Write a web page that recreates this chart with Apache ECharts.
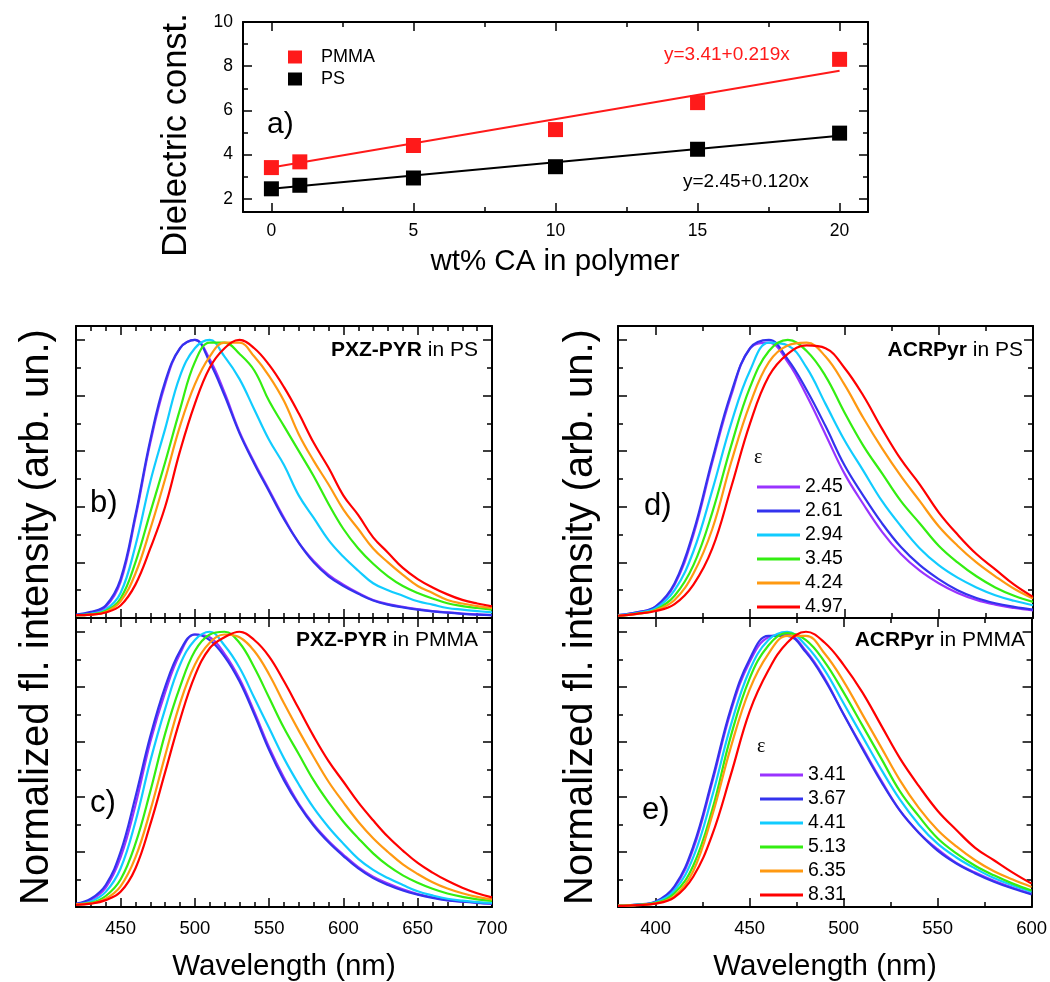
<!DOCTYPE html>
<html><head><meta charset="utf-8">
<script src="https://cdn.jsdelivr.net/npm/echarts@6/dist/echarts.min.js"></script>
<style>html,body{margin:0;padding:0;background:#fff}#c{width:1050px;height:982px}</style>
</head><body><div id="c"></div>
<script>
// ---------- panel a data ----------
const wtPct   = [0, 1, 5, 10, 15, 20];
const epsPMMA = [3.41, 3.67, 4.41, 5.13, 6.35, 8.31];
const epsPS   = [2.45, 2.61, 2.94, 3.45, 4.24, 4.97];
const fitX    = [0, 20];
const fitPMMA = [3.41, 7.79];
const fitPS   = [2.45, 4.85];
const aXTicks = [0, 5, 10, 15, 20];
const aXMinor = [2.5, 7.5, 12.5, 17.5];
const aYTicks = [2, 4, 6, 8, 10];
const aYMinor = [3, 5, 7, 9];

// ---------- spectra ----------
const wlPXZ = [420,430,440,450,460,470,480,490,500,510,520,530,540,550,560,570,580,590,600,610,620,630,640,650,660,670,680,690,700];
const wlACR = [380,390,400,410,420,430,440,450,460,470,480,490,500,510,520,530,540,550,560,570,580,590,600];
const pxzTicks = [450, 500, 550, 600, 650, 700];
const pxzMinor = [430,440,460,470,480,490,510,520,530,540,560,570,580,590,610,620,630,640,660,670,680,690];
const acrTicks = [400, 450, 500, 550, 600];
const acrMinor = [425, 475, 525, 575];
const intTicks = [0.2, 0.4, 0.6, 0.8, 1.0];
const intMinor = [0.1, 0.3, 0.5, 0.7, 0.9];

const epsPSLabels   = ['2.45', '2.61', '2.94', '3.45', '4.24', '4.97'];
const epsPMMALabels = ['3.41', '3.67', '4.41', '5.13', '6.35', '8.31'];
const lineColors = ['#9933ff', '#3333ee', '#11ccff', '#33ee11', '#ff9911', '#ff0000'];

// b) PXZ-PYR in PS
const b245 = [0.01,0.02,0.04,0.13,0.36,0.63,0.84,0.97,1.0,0.93,0.81,0.67,0.56,0.46,0.36,0.27,0.205,0.155,0.12,0.09,0.065,0.05,0.04,0.032,0.025,0.02,0.016,0.013,0.01];
const b261 = [0.012,0.022,0.045,0.14,0.37,0.64,0.85,0.97,1.0,0.92,0.8,0.665,0.555,0.455,0.355,0.27,0.2,0.15,0.115,0.087,0.063,0.048,0.038,0.03,0.024,0.019,0.015,0.012,0.01];
const b294 = [0.01,0.015,0.03,0.09,0.26,0.49,0.68,0.87,0.97,1.0,0.94,0.86,0.75,0.64,0.55,0.44,0.36,0.28,0.22,0.17,0.125,0.1,0.08,0.06,0.048,0.036,0.03,0.025,0.02];
const b345 = [0.01,0.013,0.025,0.07,0.2,0.38,0.56,0.75,0.92,0.99,0.99,0.95,0.89,0.78,0.69,0.6,0.51,0.41,0.32,0.25,0.195,0.15,0.115,0.09,0.07,0.053,0.043,0.036,0.03];
const b424 = [0.01,0.012,0.022,0.06,0.16,0.32,0.5,0.69,0.84,0.94,0.99,0.99,0.94,0.87,0.78,0.66,0.565,0.48,0.39,0.32,0.25,0.2,0.155,0.115,0.09,0.065,0.052,0.043,0.036];
const b497 = [0.01,0.012,0.02,0.045,0.12,0.25,0.4,0.6,0.77,0.9,0.97,1.0,0.97,0.91,0.83,0.735,0.63,0.54,0.44,0.37,0.29,0.235,0.18,0.14,0.11,0.085,0.065,0.052,0.042];
// c) PXZ-PYR in PMMA
const c341 = [0.01,0.025,0.07,0.18,0.37,0.6,0.78,0.92,0.99,0.98,0.92,0.83,0.71,0.58,0.47,0.375,0.3,0.24,0.19,0.145,0.11,0.085,0.064,0.047,0.035,0.025,0.02,0.016,0.013];
const c367 = [0.012,0.03,0.08,0.2,0.4,0.62,0.8,0.93,0.99,0.97,0.91,0.82,0.7,0.57,0.46,0.37,0.295,0.235,0.185,0.14,0.105,0.08,0.06,0.045,0.033,0.024,0.019,0.015,0.012];
const c441 = [0.01,0.02,0.055,0.14,0.31,0.53,0.72,0.88,0.97,1.0,0.95,0.87,0.76,0.65,0.54,0.445,0.36,0.29,0.23,0.175,0.135,0.105,0.08,0.057,0.042,0.03,0.023,0.018,0.015];
const c513 = [0.01,0.015,0.04,0.1,0.23,0.42,0.63,0.8,0.93,0.99,1.0,0.96,0.87,0.76,0.65,0.555,0.46,0.38,0.31,0.25,0.195,0.15,0.115,0.088,0.066,0.049,0.037,0.028,0.022];
const c635 = [0.01,0.013,0.03,0.075,0.18,0.35,0.55,0.74,0.88,0.96,0.99,0.98,0.93,0.845,0.74,0.64,0.545,0.455,0.38,0.31,0.25,0.2,0.155,0.12,0.09,0.067,0.05,0.037,0.028];
const c831 = [0.008,0.012,0.025,0.055,0.14,0.3,0.49,0.68,0.84,0.94,0.98,1.0,0.97,0.91,0.82,0.72,0.62,0.53,0.455,0.38,0.315,0.255,0.205,0.16,0.125,0.095,0.07,0.05,0.035];
// d) ACRPyr in PS
const d245 = [0.01,0.02,0.04,0.12,0.3,0.56,0.8,0.97,0.99,0.92,0.8,0.66,0.52,0.41,0.31,0.23,0.17,0.125,0.09,0.065,0.048,0.036,0.027];
const d261 = [0.01,0.02,0.042,0.125,0.31,0.57,0.81,0.97,1.0,0.93,0.82,0.69,0.55,0.44,0.34,0.255,0.19,0.14,0.1,0.072,0.053,0.04,0.03];
const d294 = [0.01,0.018,0.035,0.1,0.24,0.46,0.7,0.89,0.99,0.98,0.9,0.77,0.64,0.53,0.42,0.33,0.25,0.19,0.145,0.11,0.082,0.062,0.046];
const d345 = [0.008,0.016,0.03,0.08,0.19,0.38,0.62,0.83,0.96,1.0,0.96,0.87,0.74,0.62,0.52,0.42,0.34,0.26,0.2,0.15,0.11,0.08,0.058];
const d424 = [0.008,0.015,0.028,0.065,0.16,0.32,0.56,0.77,0.92,0.98,0.99,0.94,0.84,0.72,0.61,0.51,0.42,0.33,0.26,0.2,0.15,0.105,0.07];
const d497 = [0.008,0.015,0.025,0.05,0.12,0.25,0.47,0.7,0.87,0.95,0.98,0.97,0.9,0.8,0.68,0.57,0.48,0.38,0.3,0.23,0.175,0.12,0.076];
// e) ACRPyr in PMMA
const e341 = [0.005,0.008,0.018,0.07,0.21,0.45,0.71,0.89,0.98,0.99,0.93,0.83,0.7,0.58,0.46,0.35,0.27,0.21,0.16,0.125,0.095,0.07,0.048];
const e367 = [0.005,0.009,0.02,0.075,0.22,0.46,0.72,0.9,0.985,0.985,0.925,0.825,0.7,0.575,0.455,0.35,0.27,0.205,0.158,0.122,0.092,0.067,0.046];
const e441 = [0.005,0.008,0.017,0.06,0.18,0.4,0.66,0.86,0.97,1.0,0.95,0.86,0.74,0.62,0.5,0.39,0.3,0.23,0.18,0.14,0.105,0.078,0.055];
const e513 = [0.005,0.008,0.015,0.05,0.15,0.35,0.62,0.83,0.95,0.995,0.97,0.89,0.78,0.66,0.54,0.42,0.33,0.25,0.195,0.15,0.115,0.085,0.06];
const e635 = [0.005,0.007,0.013,0.04,0.13,0.33,0.58,0.79,0.92,0.985,0.985,0.92,0.82,0.7,0.58,0.46,0.36,0.28,0.22,0.17,0.13,0.1,0.073];
const e831 = [0.004,0.007,0.012,0.035,0.11,0.26,0.48,0.71,0.86,0.96,1.0,0.96,0.88,0.78,0.66,0.54,0.44,0.35,0.28,0.215,0.17,0.125,0.085];

const FONT = '"Liberation Sans", Arial, Helvetica, sans-serif';
const grids = [
  {left: 243, top: 22,  width: 625, height: 190},
  {left: 76,  top: 326, width: 416, height: 292},
  {left: 76,  top: 618, width: 416, height: 289},
  {left: 618, top: 326, width: 415, height: 292},
  {left: 618, top: 618, width: 415, height: 289}
];

const xAxes = [], yAxes = [];
function mkAxis(gi, pos, r, ticks, len, line, labelVals, fs, margin) {
  return {
    gridIndex: gi, type: 'value', position: pos, min: r.min, max: r.max,
    axisLine: {show: line, onZero: false, lineStyle: {color: '#000', width: 2}},
    axisTick: {show: true, inside: true, length: len, customValues: ticks, lineStyle: {color: '#000', width: 1.5}},
    axisLabel: labelVals ? {show: true, customValues: labelVals, color: '#000', fontSize: fs, fontFamily: FONT, margin: margin} : {show: false},
    splitLine: {show: false}, splitArea: {show: false}
  };
}
function addFrame(gi, xs, ys) {
  const xi = xAxes.length, yi = yAxes.length;
  xAxes.push(mkAxis(gi, 'bottom', xs, xs.major, 9, true, xs.labels, xs.fs, xs.margin));
  xAxes.push(mkAxis(gi, 'bottom', xs, xs.minor, 5, false, null));
  xAxes.push(mkAxis(gi, 'top', xs, xs.major, 9, true, null));
  xAxes.push(mkAxis(gi, 'top', xs, xs.minor, 5, false, null));
  yAxes.push(mkAxis(gi, 'left', ys, ys.major, 9, true, ys.labels, ys.fs, ys.margin));
  yAxes.push(mkAxis(gi, 'left', ys, ys.minor, 5, false, null));
  yAxes.push(mkAxis(gi, 'right', ys, ys.major, 9, true, null));
  yAxes.push(mkAxis(gi, 'right', ys, ys.minor, 5, false, null));
  return {xi, yi};
}

const fa = addFrame(0, {min: -1, max: 21, major: aXTicks, minor: aXMinor, labels: aXTicks, fs: 17.5, margin: 10},
                       {min: 1.4, max: 10, major: aYTicks, minor: aYMinor, labels: aYTicks, fs: 17.5, margin: 10});
const yInt = {min: 0, max: 1.05, major: intTicks, minor: intMinor, labels: null};
const fb = addFrame(1, {min: 420, max: 700, major: pxzTicks, minor: pxzMinor, labels: null}, yInt);
const fc = addFrame(2, {min: 420, max: 700, major: pxzTicks, minor: pxzMinor, labels: pxzTicks, fs: 18.5, margin: 12}, yInt);
const fd = addFrame(3, {min: 380, max: 600, major: acrTicks, minor: acrMinor, labels: null}, yInt);
const fe = addFrame(4, {min: 380, max: 600, major: acrTicks, minor: acrMinor, labels: acrTicks, fs: 18.5, margin: 12}, yInt);

const series = [];
function pair(xs, ys) { return xs.map((x, i) => [x, ys[i]]); }
series.push({type: 'line', name: 'PMMA fit', xAxisIndex: fa.xi, yAxisIndex: fa.yi, data: pair(fitX, fitPMMA),
  symbol: 'none', lineStyle: {color: '#ff1a1a', width: 2}, z: 2});
series.push({type: 'line', name: 'PS fit', xAxisIndex: fa.xi, yAxisIndex: fa.yi, data: pair(fitX, fitPS),
  symbol: 'none', lineStyle: {color: '#000', width: 2}, z: 2});
series.push({type: 'scatter', name: 'PMMA', xAxisIndex: fa.xi, yAxisIndex: fa.yi, data: pair(wtPct, epsPMMA),
  symbol: 'rect', symbolSize: 15, itemStyle: {color: '#ff1a1a', opacity: 1}, z: 3});
series.push({type: 'scatter', name: 'PS', xAxisIndex: fa.xi, yAxisIndex: fa.yi, data: pair(wtPct, epsPS),
  symbol: 'rect', symbolSize: 15, itemStyle: {color: '#000', opacity: 1}, z: 3});

function addSpectra(f, wl, arrs, names) {
  arrs.forEach((a, i) => {
    series.push({type: 'line', name: names[i], xAxisIndex: f.xi, yAxisIndex: f.yi, data: pair(wl, a),
      symbol: 'none', showSymbol: false, smooth: 0.4, clip: true,
      lineStyle: {color: lineColors[i], width: 2.2}, itemStyle: {color: lineColors[i]}, z: 2 + i * 0.1});
  });
}
addSpectra(fb, wlPXZ, [b245, b261, b294, b345, b424, b497], epsPSLabels);
addSpectra(fc, wlPXZ, [c341, c367, c441, c513, c635, c831], epsPMMALabels);
addSpectra(fd, wlACR, [d245, d261, d294, d345, d424, d497], epsPSLabels);
addSpectra(fe, wlACR, [e341, e367, e441, e513, e635, e831], epsPMMALabels);

function T(x, y, text, size, o) {
  o = o || {};
  return {type: 'text', x: x, y: y, rotation: o.rot || 0, z: 100, silent: true,
    style: {text: text, fill: o.color || '#000', fontSize: size, fontFamily: o.family || FONT,
      fontWeight: o.weight || 'normal', textAlign: o.align || 'left', textVerticalAlign: 'middle', rich: o.rich}};
}
const richB = (s) => ({b: {fontWeight: 'bold', fontSize: s, fontFamily: FONT, fill: '#000'}});
const SERIF = '"Liberation Serif", "DejaVu Serif", serif';
const graphics = [
  T(267, 125, 'a)', 30),
  T(90, 503, 'b)', 31), T(90, 803, 'c)', 31), T(644, 506, 'd)', 31), T(642, 810, 'e)', 31),
  T(478, 350, '{b|PXZ-PYR} in PS', 21, {align: 'right', rich: richB(21)}),
  T(478, 640, '{b|PXZ-PYR} in PMMA', 21, {align: 'right', rich: richB(21)}),
  T(1023, 350, '{b|ACRPyr} in PS', 21, {align: 'right', rich: richB(21)}),
  T(1025, 640, '{b|ACRPyr} in PMMA', 21, {align: 'right', rich: richB(21)}),
  T(664, 55, 'y=3.41+0.219x', 19, {color: '#ff1a1a'}),
  T(683, 182, 'y=2.45+0.120x', 19),
  T(754, 458, '\u03b5', 20, {family: SERIF}),
  T(757, 747, '\u03b5', 20, {family: SERIF}),
  T(555, 262, 'wt% CA in polymer', 29.5, {align: 'center'}),
  T(176, 135, 'Dielectric const.', 34.5, {align: 'center', rot: Math.PI / 2}),
  T(37, 617, 'Normalized fl. intensity (arb. un.)', 40, {align: 'center', rot: Math.PI / 2}),
  T(581, 617, 'Normalized fl. intensity (arb. un.)', 40, {align: 'center', rot: Math.PI / 2}),
  T(284, 967, 'Wavelength (nm)', 29.5, {align: 'center'}),
  T(825, 967, 'Wavelength (nm)', 29.5, {align: 'center'})
];

const legTxt = (s) => ({fontSize: s, lineHeight: s, fontFamily: FONT, color: '#000'});
const option = {
  animation: false,
  backgroundColor: '#fff',
  grid: grids.map(g => Object.assign({containLabel: false}, g)),
  xAxis: xAxes,
  yAxis: yAxes,
  legend: [
    {data: ['PMMA', 'PS'], orient: 'vertical', left: 283, top: 43, icon: 'rect', itemWidth: 14, itemHeight: 13,
      itemGap: 4, selectedMode: false, itemStyle: {opacity: 1}, textStyle: Object.assign(legTxt(18), {padding: [0, 0, 0, 14]})},
    {data: epsPSLabels, orient: 'vertical', left: 752, top: 472, icon: 'rect', itemWidth: 43, itemHeight: 3,
      itemGap: 4, selectedMode: false, textStyle: legTxt(19.5)},
    {data: epsPMMALabels, orient: 'vertical', left: 755, top: 760, icon: 'rect', itemWidth: 43, itemHeight: 3,
      itemGap: 4, selectedMode: false, textStyle: legTxt(19.5)}
  ],
  graphic: graphics,
  series: series
};
const chart = echarts.init(document.getElementById('c'), null, {renderer: 'canvas'});
chart.setOption(option);
</script>
</body></html>
